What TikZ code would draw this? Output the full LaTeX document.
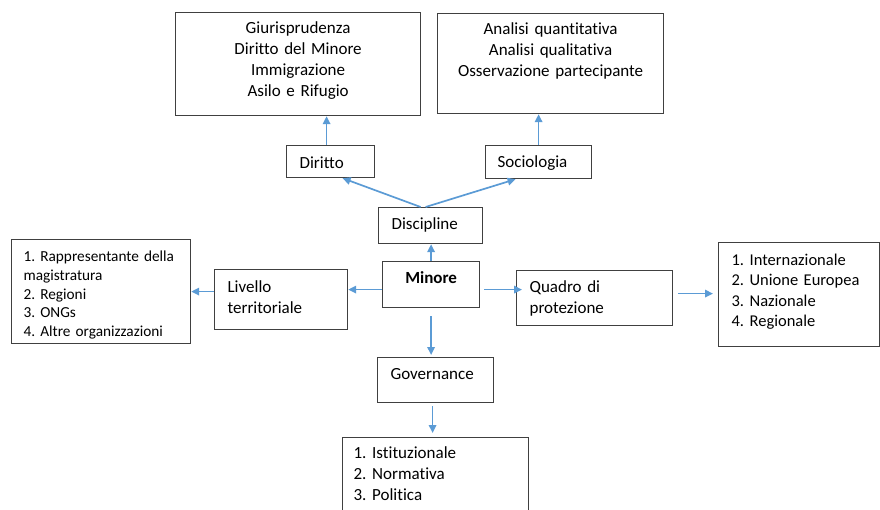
\documentclass[tikz,border=0pt]{standalone}
\usepackage{fontspec}
\setmainfont{Carlito}[Ligatures=NoCommon]
\frenchspacing
\usetikzlibrary{positioning}
\usetikzlibrary{arrows.meta}
\definecolor{azul}{HTML}{5B9BD5}
\definecolor{borde}{HTML}{404040}

\begin{document}
\begin{tikzpicture}[x=1pt, y=-1pt,
  caja/.style={draw=borde, line width=1.2pt, anchor=north west, align=left, inner ysep=0pt, text=black, font=\fontsize{17}{21}\selectfont},
  flecha/.style={draw=azul, line width=1.7pt, -{Triangle[length=8pt,width=7.5pt]}}]
  \useasboundingbox (0,0) rectangle (880,510);
  \clip (0,0) rectangle (880,510);

  % Cajas de arriba
  \node[caja, align=center, text width=233pt, inner xsep=6pt, text height=21pt, text depth=82pt] (dirlist) at (175,12) {Giurisprudenza\\Diritto del Minore\\Immigrazione\\Asilo e Rifugio};
  \node[caja, align=center, text width=214pt, inner xsep=6pt, text height=21pt, text depth=79pt] (soclist) at (437,13) {Analisi quantitativa\\Analisi qualitativa\\Osservazione partecipante};
  \node[caja, text width=62pt, inner xsep=13pt, text height=23pt, text depth=9pt] (diritto) at (286,145) {Diritto};
  \node[caja, text width=82pt, inner xsep=12pt, text height=22pt, text depth=11pt] (sociologia) at (485,145) {Sociologia};
  \node[caja, text width=78pt, inner xsep=13pt, text height=22pt, text depth=14pt] (discipline) at (378,207) {Discipline};

  % Caja central
  \node[caja, align=center, text width=85pt, inner xsep=6pt, text height=22pt, text depth=24pt, font=\fontsize{17}{21}\selectfont\bfseries] (minore) at (382,261) {Minore};

  % Cajas de los lados
  \node[caja, text width=107pt, inner xsep=13pt, text height=23pt, text depth=37pt] (livello) at (214,269) {Livello\\territoriale};
  \node[caja, text width=155pt, inner xsep=12pt, text height=22pt, text depth=82pt, font=\fontsize{15.3}{18.8}\selectfont] (leftlist) at (11,239) {1. Rappresentante della\\magistratura\\2. Regioni\\3. ONGs\\4. Altre organizzazioni};
  \node[caja, text width=130pt, inner xsep=13pt, text height=22pt, text depth=33pt] (quadro) at (516,270) {Quadro di\\protezione};
  \node[caja, text width=135pt, inner xsep=13pt, text height=23pt, text depth=81pt, font=\fontsize{16.5}{20.3}\selectfont] (rightlist) at (718,242) {1. Internazionale\\2. Unione Europea\\3. Nazionale\\4. Regionale};

  % Cajas de abajo
  \node[caja, text width=90pt, inner xsep=13pt, text height=22pt, text depth=23pt] (governance) at (377,357) {Governance};
  \node[caja, text width=164pt, inner xsep=11pt, text height=21pt, text depth=62pt] (botlist) at (342,437) {1. Istituzionale\\2. Normativa\\3. Politica};

  % Flechas
  \draw[flecha] ([xshift=-4pt]diritto.north) -- ([xshift=-4pt]diritto.north |- dirlist.south); % Diritto
  \draw[flecha] (sociologia.north) -- (sociologia.north |- soclist.south); % Sociologia
  \draw[flecha] ([xshift=-10pt]discipline.north) -- ([xshift=12pt]diritto.south);
  \draw[flecha] ([xshift=-5pt]discipline.north) -- ([xshift=-23pt]sociologia.south);
  \draw[flecha] (minore.north) -- (minore.north |- discipline.south);
  \draw[flecha] ([yshift=-5pt]minore.west) -- ([yshift=-5pt]minore.west -| livello.east);
  \draw[flecha] ([yshift=8pt]livello.west) -- ([yshift=8pt]livello.west -| leftlist.east);
  \draw[flecha, shorten <=4pt, shorten >=-6pt] ([yshift=-5pt]minore.east) -- ([yshift=-5pt]minore.east -| quadro.west);
  \draw[flecha, shorten <=5pt, shorten >=5pt] ([yshift=4.5pt]quadro.east) -- ([yshift=4.5pt]quadro.east -| rightlist.west);
  \draw[flecha, shorten <=8pt, shorten >=2pt] (minore.south) -- (minore.south |- governance.north);
  \draw[flecha, shorten <=3pt, shorten >=4pt] ([xshift=-3pt]governance.south) -- ([xshift=-3pt]governance.south |- botlist.north);

\end{tikzpicture}
\end{document}
